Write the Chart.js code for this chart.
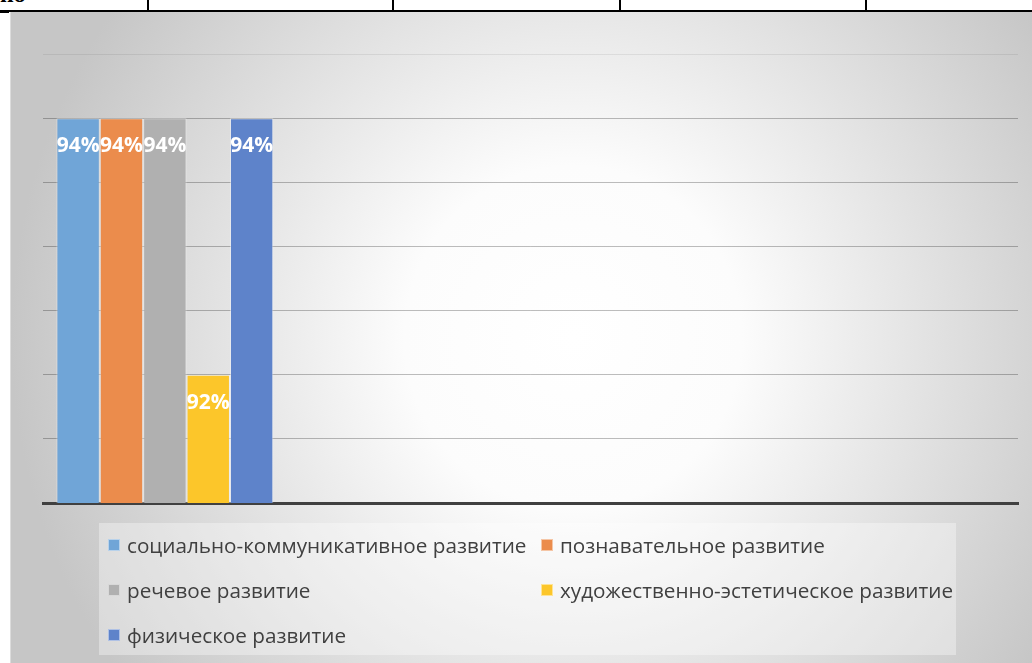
<!DOCTYPE html>
<html>
<head>
<meta charset="utf-8">
<script src="https://cdn.jsdelivr.net/npm/chart.js@4.4.0/dist/chart.umd.min.js"></script>
<style>
  html, body { margin: 0; padding: 0; background: #ffffff; }
  body { width: 1032px; height: 663px; position: relative; overflow: hidden; font-family: "Open Sans", sans-serif; }
  .tline { position: absolute; background: #000; }
  .cut { position: absolute; left: 0; top: -19px; font: bold 24px "Liberation Serif", serif; color: #000; }
  #wrap {
    position: absolute; left: 10px; top: 12px; width: 1022px; height: 651px;
    background: radial-gradient(ellipse 562px 570px at 562px 325px, #ffffff 0%, #fcfcfc 30%, #c6c6c6 100%);
    border-left: 1px solid #dcdcdc;
  }
  #chart { position: absolute; left: 0; top: 0; }
  #legend {
    position: absolute; left: 88px; top: 511px; width: 857px; height: 132px;
    background: rgba(255,255,255,0.35);
  }
  .item { position: absolute; display: flex; align-items: center; font-size: 20.7px; color: #404040; white-space: nowrap; }
  .item i { display: inline-block; width: 12px; height: 12px; margin-right: 7px; box-sizing: border-box; border: 1px solid rgba(255,255,255,0.5); }
</style>
</head>
<body>
<div class="cut">но</div>
<div class="tline" style="left:0;top:10px;width:1032px;height:2px"></div>
<div class="tline" style="left:0;top:10px;width:9px;height:3px"></div>
<div class="tline" style="left:147px;top:0;width:2px;height:11px"></div>
<div class="tline" style="left:392px;top:0;width:2px;height:11px"></div>
<div class="tline" style="left:619px;top:0;width:2px;height:11px"></div>
<div class="tline" style="left:865px;top:0;width:2px;height:11px"></div>

<div id="wrap">
  <canvas id="chart" width="1022" height="651"></canvas>
  <div id="legend"></div>
</div>

<script>
// categories (only the first one holds values)
const categories = ['', '', '', ''];

// series names
const seriesNames = [
  'социально-коммуникативное развитие',
  'познавательное развитие',
  'речевое развитие',
  'художественно-эстетическое развитие',
  'физическое развитие'
];

// values, %
const socialValues = [94, null, null, null];
const cognitiveValues = [94, null, null, null];
const speechValues = [94, null, null, null];
const artValues = [92, null, null, null];
const physicalValues = [94, null, null, null];

const seriesColors = ['#70a5d7', '#eb8c4c', '#b0b0b0', '#fcc62a', '#5e83ca'];

// y axis range
const yMin = 91;
const yMax = 94.5;
const yStep = 0.5;

const allValues = [socialValues, cognitiveValues, speechValues, artValues, physicalValues];

const datasets = allValues.map((vals, i) => ({
  label: seriesNames[i],
  data: vals,
  backgroundColor: seriesColors[i],
  borderColor: 'rgba(255,255,255,0.45)',
  borderWidth: 1,
  categoryPercentage: 0.89,
  barPercentage: 1.0
}));

// white percent labels inside the top of each bar
const barLabels = {
  id: 'barLabels',
  afterDatasetsDraw(chart) {
    const ctx = chart.ctx;
    ctx.save();
    ctx.fillStyle = '#ffffff';
    ctx.font = 'bold 21px "Open Sans", sans-serif';
    ctx.textAlign = 'center';
    ctx.textBaseline = 'middle';
    chart.data.datasets.forEach((ds, i) => {
      const meta = chart.getDatasetMeta(i);
      meta.data.forEach((bar, j) => {
        const v = ds.data[j];
        if (v === null || v === undefined) return;
        ctx.fillText(v + '%', bar.x, bar.y + 28);
      });
    });
    ctx.restore();
  }
};

const ctx = document.getElementById('chart').getContext('2d');
const chart = new Chart(ctx, {
  type: 'bar',
  data: {
    labels: categories,
    datasets: datasets
  },
  options: {
    responsive: false,
    animation: false,
    layout: { padding: { left: 32, right: 15, top: 42, bottom: 160 } },
    plugins: {
      legend: { display: false },
      tooltip: { enabled: false }
    },
    scales: {
      x: {
        ticks: { display: false },
        grid: { display: false, drawTicks: false },
        border: { display: true, color: '#404040', width: 3 }
      },
      y: {
        min: yMin,
        max: yMax,
        ticks: { display: false, stepSize: yStep },
        grid: {
          drawTicks: false,
          color: function (c) {
            return c.tick && c.tick.value === yMax ? 'rgba(0,0,0,0.07)' : 'rgba(0,0,0,0.26)';
          },
          lineWidth: 1
        },
        border: { display: false }
      }
    }
  },
  plugins: [barLabels]
});

// legend laid out in two columns like the original
const legend = document.getElementById('legend');
chart.data.datasets.forEach((ds, i) => {
  const el = document.createElement('div');
  el.className = 'item';
  el.style.left = (i % 2 === 0 ? 9 : 442) + 'px';
  el.style.top = (8 + Math.floor(i / 2) * 45) + 'px';
  el.innerHTML = '<i style="background:' + ds.backgroundColor + '"></i>' + ds.label;
  legend.appendChild(el);
});
</script>
</body>
</html>
